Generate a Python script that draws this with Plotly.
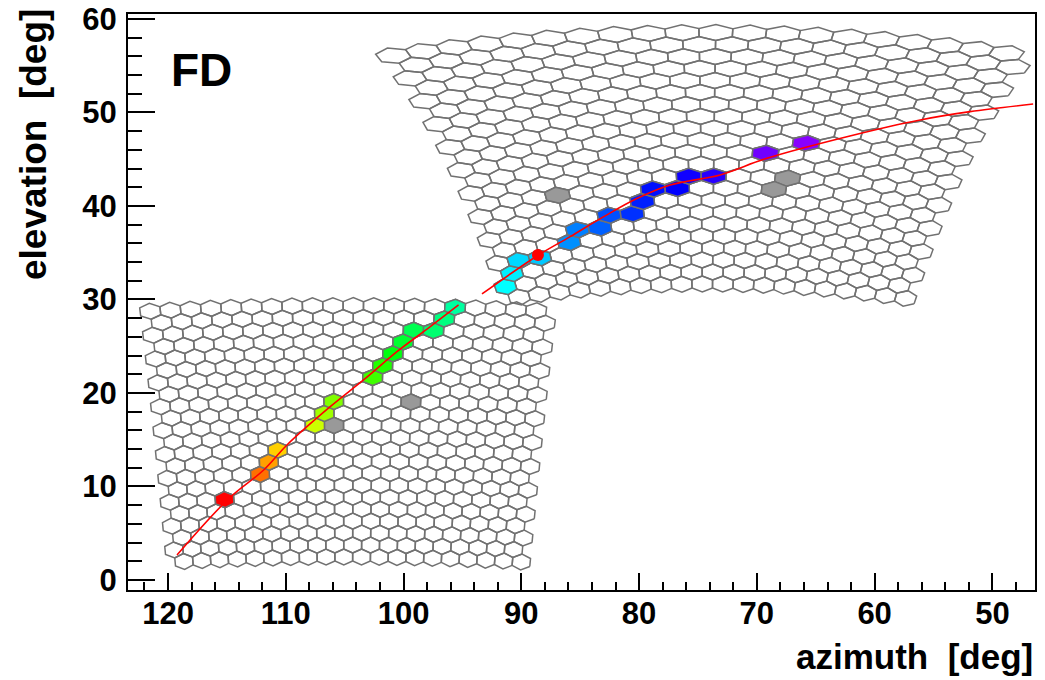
import numpy as np
import plotly.graph_objects as go

# ---------------- camera layout (structure of the two FD cameras) ----------------
N_ROWS, N_COLS = 22, 20
CAM_PIX_U = [1.55, 1.53]           # pixel spacing across the camera [deg]
PIX_V = 1.28                       # row spacing [deg]
CAM_AZ = [104.7, 74.2]             # camera pointing azimuth [deg]
CAM_EL = [15.9, 45.1]              # camera pointing elevation [deg]

# ---------------- hit pixels ----------------
hit_az = [114.88, 111.94, 111.20, 110.47, 107.35, 106.65, 105.94, 102.63, 101.78,
          100.93, 100.08, 99.24, 97.45, 96.55, 95.61,
          91.23, 90.60, 89.81, 88.11, 85.65, 84.80, 82.96, 82.17, 80.27, 79.42,
          78.44, 76.45, 75.47, 73.40, 69.10, 65.76]
hit_el = [8.66, 11.23, 12.59, 13.87, 16.58, 17.93, 19.25, 21.74, 23.10,
          24.42, 25.67, 26.90, 26.84, 27.98, 29.23,
          31.48, 32.90, 34.15, 34.15, 36.00, 37.25, 37.25, 38.68, 38.68, 40.10,
          41.36, 41.53, 42.96, 42.96, 45.45, 46.52]
hit_color = ["#ff0000", "#ff7000", "#ffa000", "#ffd000", "#ccff00", "#a0ff00", "#80ff00",
             "#40ff00", "#20ff00", "#00ff10", "#00ff30", "#00ff50", "#00ff70", "#00ff80",
             "#00ffa0",
             "#00ffff", "#00f0ff", "#00d8ff", "#00c8ff", "#0090ff", "#0080ff", "#0060ff",
             "#0050ff", "#0030ff", "#0020ff", "#0010ff", "#0000ff", "#1000ff", "#2800ff",
             "#7000ff", "#8800ff"]

gray_az = [105.94, 99.52, 86.42, 67.32, 68.45]
gray_el = [16.58, 19.18, 41.00, 42.70, 41.36]
GRAY_COLOR = "#999999"

# ---------------- fitted track ----------------
trk1_az = [119.24, 114.88, 111.88, 109.90, 106.23, 103.40, 100.56, 97.73, 95.33]
trk1_el = [2.67, 8.66, 11.76, 14.44, 18.53, 21.39, 24.42, 27.09, 29.41]
trk2_az = [93.34, 88.67, 85.85, 83.00, 80.19, 77.36, 73.12, 69.15, 62.10, 56.13, 51.90, 46.54]
trk2_el = [30.59, 34.65, 36.72, 38.86, 40.80, 42.25, 43.32, 45.10, 47.49, 49.20, 50.09, 50.90]

dot_az = [88.59]
dot_el = [34.76]

X_TICKS = [120, 110, 100, 90, 80, 70, 60, 50]
Y_TICKS = [0, 10, 20, 30, 40, 50, 60]


def cam_to_sky(u, v, az0, el0):
    u = np.radians(u)
    v = np.radians(v)
    x = np.cos(v) * np.cos(u)
    y = -np.cos(v) * np.sin(u)
    z = np.sin(v)
    e = np.radians(el0)
    x2 = x * np.cos(e) - z * np.sin(e)
    z2 = x * np.sin(e) + z * np.cos(e)
    az = az0 + np.degrees(np.arctan2(y, x2))
    el = np.degrees(np.arcsin(np.clip(z2, -1, 1)))
    return az, el


HEX_H = PIX_V * 4.0 / 3.0
hex_fu = np.array([0.5, 0.5, 0.0, -0.5, -0.5, 0.0, 0.5])
hex_dv = np.array([-0.25, 0.25, 0.5, 0.25, -0.25, -0.5, -0.25]) * HEX_H

pixels = []  # (center_az, center_el, poly_az, poly_el)
for az0, el0, pu in zip(CAM_AZ, CAM_EL, CAM_PIX_U):
    for r in range(N_ROWS):
        v = (r - (N_ROWS - 1) / 2) * PIX_V
        shift = 0.25 if r % 2 == 0 else -0.25
        for c in range(N_COLS):
            u = (c - (N_COLS - 1) / 2 + shift) * pu
            caz, cel = cam_to_sky(u, v, az0, el0)
            paz, pel = cam_to_sky(u + hex_fu * pu, v + hex_dv, az0, el0)
            pixels.append((caz, cel, paz, pel))

cen_az = np.array([p[0] for p in pixels])
cen_el = np.array([p[1] for p in pixels])


def nearest(az, el):
    d = ((cen_az - az) * 11.78) ** 2 + ((cen_el - el) * 9.35) ** 2
    return int(np.argmin(d))


EDGE = "#717171"
fig = go.Figure()

ox, oy = [], []
for p in pixels:
    ox += list(p[2]) + [None]
    oy += list(p[3]) + [None]
fig.add_trace(go.Scatter(x=ox, y=oy, mode="lines", line=dict(color=EDGE, width=1.5),
                         hoverinfo="skip"))

for a, e in zip(gray_az, gray_el):
    p = pixels[nearest(a, e)]
    fig.add_trace(go.Scatter(x=p[2], y=p[3], mode="lines", fill="toself", fillcolor=GRAY_COLOR,
                             line=dict(color=EDGE, width=1.5), hoverinfo="skip"))
for a, e, col in zip(hit_az, hit_el, hit_color):
    p = pixels[nearest(a, e)]
    fig.add_trace(go.Scatter(x=p[2], y=p[3], mode="lines", fill="toself", fillcolor=col,
                             line=dict(color=EDGE, width=1.5), hoverinfo="skip"))

for ta, te in [(trk1_az, trk1_el), (trk2_az, trk2_el)]:
    fig.add_trace(go.Scatter(x=ta, y=te, mode="lines",
                             line=dict(color="#ff0000", width=1.6, shape="spline"),
                             hoverinfo="skip"))
fig.add_trace(go.Scatter(x=dot_az, y=dot_el, mode="markers", marker=dict(color="#ff0000", size=12),
                         hoverinfo="skip"))

FONT = "Liberation Sans"
fig.update_layout(
    width=1045, height=680,
    margin=dict(l=128, r=10, t=14, b=90, autoexpand=False),
    plot_bgcolor="white", paper_bgcolor="white", showlegend=False,
    xaxis=dict(range=[123.4, 46.38], tickmode="array", tickvals=X_TICKS,
               ticktext=[str(t) for t in X_TICKS], automargin=False,
               ticks="inside", ticklen=17, tickwidth=2, tickcolor="black",
               ticklabelstandoff=-5,
               showline=True, linewidth=2, linecolor="black", mirror=True,
               showgrid=False, zeroline=False,
               minor=dict(ticks="inside", ticklen=8, tickwidth=1.5, tickcolor="black",
                          tickmode="linear", tick0=0, dtick=2, showgrid=False),
               tickfont=dict(family=FONT, size=31, color="black", weight="bold")),
    yaxis=dict(range=[-1.07, 60.53], tickmode="array", tickvals=Y_TICKS,
               ticktext=[str(t) for t in Y_TICKS], automargin=False,
               ticks="inside", ticklen=27, tickwidth=2, tickcolor="black",
               ticklabelstandoff=3,
               showline=True, linewidth=2, linecolor="black", mirror=True,
               showgrid=False, zeroline=False,
               minor=dict(ticks="inside", ticklen=14, tickwidth=1.5, tickcolor="black",
                          tickmode="linear", tick0=0, dtick=2, showgrid=False),
               tickfont=dict(family=FONT, size=31, color="black", weight="bold")),
    annotations=[
        dict(text="azimuth\u00a0 [deg]", xref="paper", yref="paper", x=1.0, y=-0.1146,
             xanchor="right", yanchor="middle", showarrow=False,
             font=dict(family=FONT, size=35, color="black", weight="bold")),
        dict(text="elevation\u00a0 [deg]", xref="paper", yref="paper", x=-0.104, y=1.0124,
             xanchor="center", yanchor="top", textangle=-90, showarrow=False,
             font=dict(family=FONT, size=37, color="black", weight="bold")),
        dict(text="FD", xref="paper", yref="paper", x=0.0805, y=0.903,
             xanchor="center", yanchor="middle", showarrow=False,
             font=dict(family=FONT, size=46, color="black", weight="bold")),
    ],
)

fig.write_html("out.html")
